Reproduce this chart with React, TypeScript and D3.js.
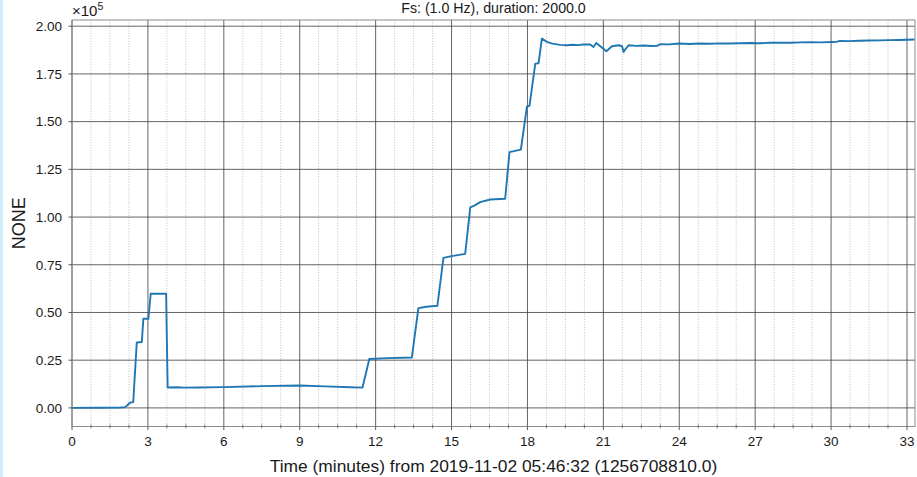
import React from "react";
import * as d3 from "d3";

// time in minutes, value in units of 1e5
const timeMin: number[] = [
  0, 1.0, 1.9, 2.1, 2.2, 2.3, 2.42, 2.56, 2.76, 2.82, 3.02, 3.11, 3.72, 3.78,
  4.2, 4.4, 5.0, 6.0, 7.5, 9.0, 10.0, 11.0, 11.48, 11.75, 12.5, 13.43, 13.69,
  14.0, 14.44, 14.68, 15.0, 15.54, 15.74, 15.9, 16.13, 16.53, 17.12, 17.29,
  17.74, 17.98, 18.08, 18.31, 18.44, 18.57, 18.77, 18.95, 19.1, 19.3, 19.56,
  19.8, 20.0, 20.2, 20.48, 20.61, 20.72, 20.88, 21.12, 21.34, 21.6, 21.74,
  21.8, 21.89, 22.0, 22.3, 22.6, 22.9, 23.12, 23.25, 23.6, 24.0, 24.4, 24.8,
  25.2, 25.6, 26.0, 26.4, 26.8, 27.2, 27.6, 28.0, 28.4, 28.8, 29.2, 29.6, 30.0,
  30.2, 30.35, 30.7, 31.1, 31.5, 31.9, 32.3, 32.7, 33.0, 33.3,
];
const valueE5: number[] = [
  0.0, 0.001, 0.002, 0.004, 0.015, 0.028, 0.03, 0.343, 0.345, 0.467, 0.467,
  0.598, 0.598, 0.107, 0.108, 0.106, 0.107, 0.109, 0.114, 0.117, 0.113, 0.108,
  0.106, 0.256, 0.261, 0.264, 0.523, 0.53, 0.535, 0.786, 0.795, 0.807, 1.051,
  1.06, 1.078, 1.092, 1.096, 1.34, 1.353, 1.58, 1.582, 1.804, 1.806, 1.935,
  1.918, 1.91, 1.906, 1.902, 1.9, 1.903, 1.901, 1.904, 1.904, 1.891, 1.912,
  1.895, 1.869, 1.895, 1.9, 1.895, 1.865, 1.883, 1.9, 1.897, 1.899, 1.896,
  1.897, 1.906, 1.905, 1.909, 1.907, 1.909, 1.908, 1.91, 1.909, 1.911, 1.912,
  1.911, 1.913, 1.914, 1.913, 1.915, 1.916, 1.915, 1.917, 1.918, 1.923, 1.922,
  1.924, 1.925, 1.926, 1.927, 1.928, 1.929, 1.93,
];

const xMajorTicks: number[] = [0, 3, 6, 9, 12, 15, 18, 21, 24, 27, 30, 33];
const yTicks: number[] = [0, 0.25, 0.5, 0.75, 1.0, 1.25, 1.5, 1.75, 2.0];
const titleText = "Fs: (1.0 Hz), duration: 2000.0";
const xLabelText = "Time (minutes) from 2019-11-02 05:46:32 (1256708810.0)";
const yLabelText = "NONE";

const W = 917;
const H = 477;
const left = 72;
const right = 915;
const top = 20;
const bottom = 426.5;
const font = "'Liberation Sans', Arial, Helvetica, sans-serif";

export default function App() {
  const x = d3.scaleLinear().domain([0, 1999 / 60]).range([left, right]);
  const y = d3.scaleLinear().domain([-0.0975, 2.0325]).range([bottom, top]);
  const minorTicks = d3
    .range(0, 1999 / 60, 0.75)
    .filter((t) => Math.abs(t / 3 - Math.round(t / 3)) > 1e-6);
  const pts: [number, number][] = timeMin.map((t, i) => [t, valueE5[i]]);
  const line = d3
    .line<[number, number]>()
    .x((d) => x(d[0]))
    .y((d) => y(d[1]));
  const fmt = d3.format(".2f");

  return (
    <svg
      width={W}
      height={H}
      style={{ position: "absolute", left: 0, top: 0, background: "#fff" }}
    >
      <rect x={0} y={0} width={W} height={H} fill="#fff" />
      <rect x={0} y={0} width={3} height={H} fill="#cdeefb" />
      {/* minor grid */}
      {minorTicks.map((t) => (
        <line
          key={"mg" + t}
          x1={x(t)}
          x2={x(t)}
          y1={top}
          y2={bottom}
          stroke="#b0b0b0"
          strokeWidth={0.8}
          strokeDasharray="1,1.6"
        />
      ))}
      {/* major grid */}
      {xMajorTicks.map((t) => (
        <line
          key={"xg" + t}
          x1={x(t)}
          x2={x(t)}
          y1={top}
          y2={bottom}
          stroke="#3c3c3c"
          strokeWidth={0.8}
        />
      ))}
      {yTicks.map((t) => (
        <line
          key={"yg" + t}
          x1={left}
          x2={right}
          y1={y(t)}
          y2={y(t)}
          stroke="#3c3c3c"
          strokeWidth={0.8}
        />
      ))}
      {/* data */}
      <path
        d={line(pts) || ""}
        fill="none"
        stroke="#1f77b4"
        strokeWidth={1.9}
        strokeLinejoin="round"
      />
      {/* frame */}
      <rect
        x={left}
        y={top}
        width={right - left}
        height={bottom - top}
        fill="none"
        stroke="#8c8c8c"
        strokeWidth={1}
      />
      {/* ticks */}
      {xMajorTicks.map((t) => (
        <line
          key={"xt" + t}
          x1={x(t)}
          x2={x(t)}
          y1={bottom}
          y2={bottom + 3.5}
          stroke="#333"
          strokeWidth={0.8}
        />
      ))}
      {minorTicks.map((t) => (
        <line
          key={"xm" + t}
          x1={x(t)}
          x2={x(t)}
          y1={bottom - 2}
          y2={bottom + 2}
          stroke="#333"
          strokeWidth={0.6}
        />
      ))}
      {yTicks.map((t) => (
        <line
          key={"yt" + t}
          x1={left - 3.5}
          x2={left}
          y1={y(t)}
          y2={y(t)}
          stroke="#333"
          strokeWidth={0.8}
        />
      ))}
      {/* tick labels */}
      {xMajorTicks.map((t) => (
        <text
          key={"xl" + t}
          x={x(t)}
          y={446}
          textAnchor="middle"
          fontFamily={font}
          fontSize={13.5}
          fill="#1a1a1a"
        >
          {String(t)}
        </text>
      ))}
      {yTicks.map((t) => (
        <text
          key={"yl" + t}
          x={62}
          y={y(t) + 4.8}
          textAnchor="end"
          fontFamily={font}
          fontSize={13.5}
          fill="#1a1a1a"
        >
          {fmt(t)}
        </text>
      ))}
      <text x={72} y={16} fontFamily={font} fontSize={15} fill="#1a1a1a">
        ×10
        <tspan fontSize={10.5} dy={-6}>
          5
        </tspan>
      </text>
      <text
        x={(left + right) / 2}
        y={13}
        textAnchor="middle"
        fontFamily={font}
        fontSize={14.2}
        fill="#1a1a1a"
      >
        {titleText}
      </text>
      <text
        x={(left + right) / 2}
        y={472}
        textAnchor="middle"
        fontFamily={font}
        fontSize={17.4}
        fill="#1a1a1a"
      >
        {xLabelText}
      </text>
      <text
        transform={`translate(24.5, ${(top + bottom) / 2}) rotate(-90)`}
        textAnchor="middle"
        fontFamily={font}
        fontSize={18}
        fill="#1a1a1a"
      >
        {yLabelText}
      </text>
    </svg>
  );
}
